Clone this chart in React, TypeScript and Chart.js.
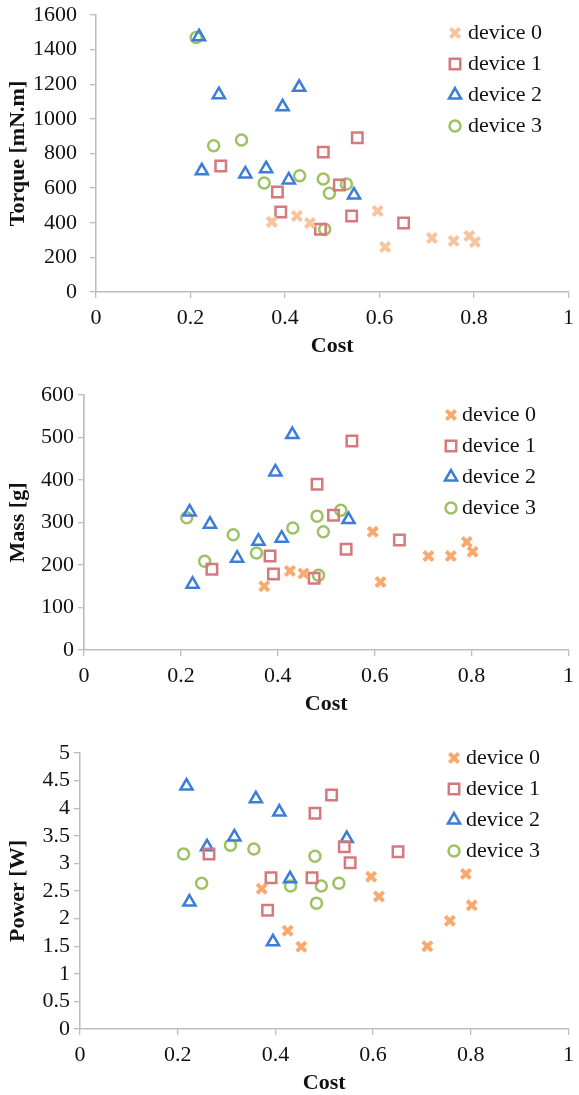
import React, { useEffect, useRef } from 'react';
import { Chart, registerables } from 'chart.js';
import { drawPoint } from 'chart.js/helpers';

Chart.register(...registerables);

const deviceLabels = ['device 0', 'device 1', 'device 2', 'device 3'];

const cost0 = [0.372, 0.425, 0.453, 0.596, 0.612, 0.711, 0.757, 0.79, 0.802];
const cost1 = [0.264, 0.384, 0.391, 0.475, 0.481, 0.515, 0.541, 0.553, 0.651];
const cost2 = [0.218, 0.224, 0.26, 0.316, 0.36, 0.395, 0.408, 0.43, 0.546];
const cost3 = [0.212, 0.249, 0.308, 0.356, 0.431, 0.481, 0.484, 0.494, 0.53];

const torque0 = [405, 439, 399, 468, 260, 312, 295, 324, 289];
const torque1 = [728, 578, 462, 363, 808, 618, 439, 891, 398];
const torque2 = [1475, 700, 1140, 682, 712, 1070, 647, 1182, 560];
const torque3 = [1470, 845, 878, 630, 671, 653, 363, 570, 624];

const mass0 = [150, 186, 180, 278, 160, 221, 221, 254, 231];
const mass1 = [190, 221, 179, 169, 390, 317, 237, 492, 259];
const mass2 = [325, 155, 296, 216, 256, 419, 263, 507, 307];
const mass3 = [311, 209, 271, 228, 287, 315, 176, 278, 329];

const power0 = [2.54, 1.78, 1.49, 2.76, 2.4, 1.5, 1.96, 2.81, 2.24];
const power1 = [3.17, 2.15, 2.74, 2.74, 3.91, 4.24, 3.3, 3.01, 3.21];
const power2 = [4.4, 2.3, 3.3, 3.48, 4.17, 1.58, 3.93, 2.72, 3.45];
const power3 = [3.17, 2.64, 3.33, 3.26, 2.59, 3.13, 2.28, 2.59, 2.64];

const costTicks = [0, 0.2, 0.4, 0.6, 0.8, 1];
const torqueTicks = [0, 200, 400, 600, 800, 1000, 1200, 1400, 1600];
const massTicks = [0, 100, 200, 300, 400, 500, 600];
const powerTicks = [0, 0.5, 1, 1.5, 2, 2.5, 3, 3.5, 4, 4.5, 5];

const xTitle = 'Cost';
const yTitles = ['Torque [mN.m]', 'Mass [g]', 'Power [W]'];

const FONT = "'Liberation Serif', 'Times New Roman', serif";
const AXIS_GRAY = '#BDBDBD';

const costs = [cost0, cost1, cost2, cost3];

function pts(xs: number[], ys: number[]) {
  return xs.map((x, i) => ({ x, y: ys[i] }));
}

type Cfg = {
  top: number;
  height: number;
  series: number[][];
  yTitle: string;
  yTicks: number[];
  yWidth: number;
  padTop: number;
  padRight: number;
  tickPad: number;
  orange: string;
  legend: { mx: number; y0: number; dy: number; tx: number };
};

const cfgs: Cfg[] = [
  {
    top: 0, height: 360, series: [torque0, torque1, torque2, torque3], yTitle: yTitles[0],
    yTicks: torqueTicks, yWidth: 96, padTop: 15, padRight: 4, tickPad: 13,
    orange: '#F9C49C', legend: { mx: 455, y0: 33, dy: 31, tx: 468 },
  },
  {
    top: 360, height: 358, series: [mass0, mass1, mass2, mass3], yTitle: yTitles[1],
    yTicks: massTicks, yWidth: 84, padTop: 35, padRight: 5, tickPad: 4,
    orange: '#F8A96E', legend: { mx: 451, y0: 55, dy: 31, tx: 462 },
  },
  {
    top: 718, height: 379, series: [power0, power1, power2, power3], yTitle: yTitles[2],
    yTicks: powerTicks, yWidth: 80, padTop: 35, padRight: 5, tickPad: 4,
    orange: '#F8A96E', legend: { mx: 454, y0: 40, dy: 31, tx: 466 },
  },
];

function makeLegendPlugin(pos: Cfg['legend']) {
  return {
    id: 'customLegend',
    afterDraw(chart: any) {
      const ctx = chart.ctx;
      chart.data.datasets.forEach((ds: any, i: number) => {
        const y = pos.y0 + i * pos.dy;
        ctx.save();
        ctx.strokeStyle = ds.borderColor;
        ctx.fillStyle = 'rgba(0,0,0,0)';
        ctx.lineWidth = ds.pointBorderWidth;
        drawPoint(ctx, { pointStyle: ds.pointStyle, radius: ds.pointRadius, borderWidth: ds.pointBorderWidth, rotation: 0 } as any, pos.mx, y);
        ctx.fillStyle = '#111';
        ctx.font = `22px ${FONT}`;
        ctx.textBaseline = 'middle';
        ctx.textAlign = 'left';
        ctx.fillText(ds.label, pos.tx, y);
        ctx.restore();
      });
    },
  };
}

const fmt = (v: any) => String(Math.round(Number(v) * 10) / 10);

function ScatterPanel({ cfg }: { cfg: Cfg }) {
  const ref = useRef<HTMLCanvasElement | null>(null);
  useEffect(() => {
    if (!ref.current) return;
    const styles = [
      { pointStyle: 'crossRot', pointRadius: 6.5, pointBorderWidth: 4, borderColor: cfg.orange },
      { pointStyle: 'rect', pointRadius: 7.4, pointBorderWidth: 2.5, borderColor: '#D6797C' },
      { pointStyle: 'triangle', pointRadius: 7, pointBorderWidth: 2.5, borderColor: '#3C7DD9' },
      { pointStyle: 'circle', pointRadius: 5.5, pointBorderWidth: 2.5, borderColor: '#9DC163' },
    ];
    const datasets = deviceLabels.map((label, i) => ({
      label,
      data: pts(costs[i], cfg.series[i]),
      backgroundColor: 'rgba(0,0,0,0)',
      showLine: false,
      ...styles[i],
    }));
    const yT = cfg.yTicks;
    const chart = new Chart(ref.current, {
      type: 'scatter',
      data: { datasets } as any,
      plugins: [makeLegendPlugin(cfg.legend)],
      options: {
        animation: false,
        responsive: false,
        maintainAspectRatio: false,
        layout: { padding: { top: cfg.padTop, right: cfg.padRight, left: 0, bottom: 0 } },
        plugins: { legend: { display: false }, tooltip: { enabled: false } },
        scales: {
          x: {
            type: 'linear',
            min: costTicks[0],
            max: costTicks[costTicks.length - 1],
            afterBuildTicks: (s: any) => { s.ticks = costTicks.map((value) => ({ value })); },
            afterFit: (s: any) => { s.height = 68; s.paddingLeft = 0; s.paddingRight = 0; },
            ticks: {
              autoSkip: false,
              padding: 7,
              color: '#111',
              font: { family: FONT, size: 22 },
              callback: fmt,
            },
            grid: { display: true, drawOnChartArea: false, drawTicks: true, tickLength: 6, color: AXIS_GRAY, lineWidth: 1.3 },
            border: { display: true, color: AXIS_GRAY, width: 1.6 },
            title: { display: true, text: xTitle, color: '#111', font: { family: FONT, size: 22, weight: 'bold' }, padding: 0 },
          },
          y: {
            type: 'linear',
            min: yT[0],
            max: yT[yT.length - 1],
            afterBuildTicks: (s: any) => { s.ticks = yT.map((value) => ({ value })); },
            afterFit: (s: any) => { s.width = cfg.yWidth; s.paddingTop = 0; s.paddingBottom = 0; },
            ticks: {
              autoSkip: false,
              padding: cfg.tickPad,
              color: '#111',
              font: { family: FONT, size: 22 },
              callback: fmt,
            },
            grid: { display: true, drawOnChartArea: false, drawTicks: true, tickLength: 6, color: AXIS_GRAY, lineWidth: 1.3 },
            border: { display: true, color: AXIS_GRAY, width: 1.6 },
            title: { display: true, text: cfg.yTitle, color: '#111', font: { family: FONT, size: 22, weight: 'bold' }, padding: { top: 5.5, bottom: 0 } },
          },
        },
      } as any,
    });
    return () => chart.destroy();
  }, [cfg]);
  return (
    <canvas
      ref={ref}
      width={579}
      height={cfg.height}
      style={{ position: 'absolute', left: 0, top: cfg.top, width: 579, height: cfg.height }}
    />
  );
}

export default function App() {
  return (
    <div style={{ position: 'fixed', left: 0, top: 0, width: 579, height: 1095, overflow: 'hidden', background: '#fff' }}>
      {cfgs.map((c, i) => (
        <ScatterPanel key={i} cfg={c} />
      ))}
    </div>
  );
}
